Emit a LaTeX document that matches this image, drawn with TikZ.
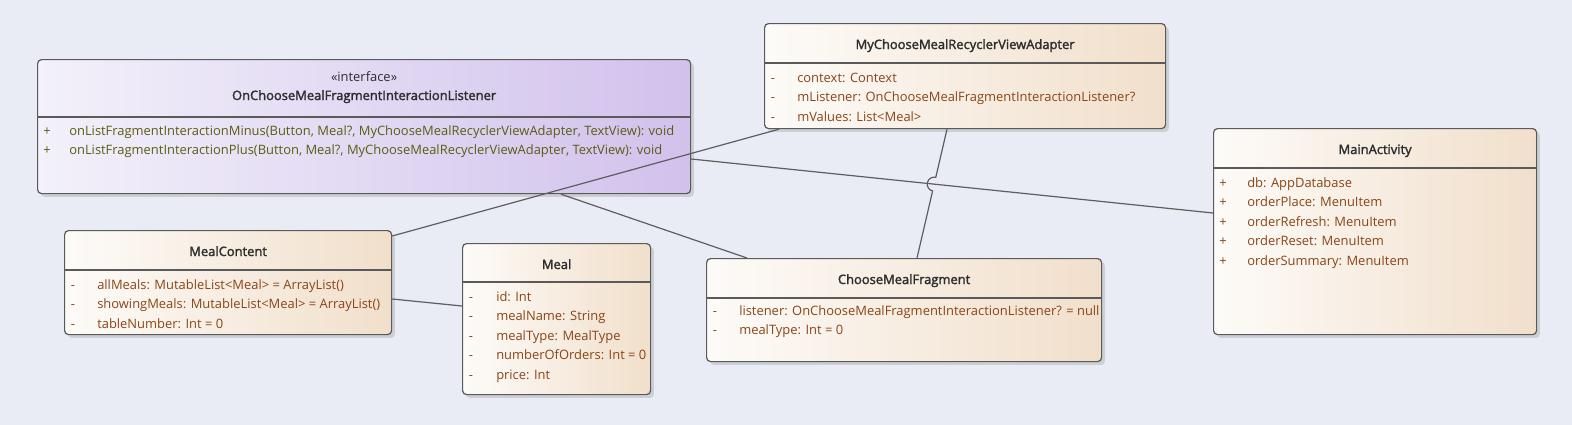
\documentclass[tikz,border=0pt]{standalone}
\usepackage{fontspec}
\setmainfont{Open Sans}[AutoFakeBold=2]
\usepackage{tikz}
\usetikzlibrary{positioning, calc, shadows, intersections}

\definecolor{bgcol}{HTML}{E9ECF4}
\definecolor{clsl}{HTML}{FDFBF8}
\definecolor{clsr}{HTML}{F1DFCB}
\definecolor{ifl}{HTML}{F3F1FA}
\definecolor{ifr}{HTML}{D1C1EC}
\definecolor{bordercol}{HTML}{5A5A5A}
\definecolor{linkcol}{HTML}{5E5E5E}
\definecolor{attrcol}{HTML}{8A4516}
\definecolor{opcol}{HTML}{5C5C14}
\definecolor{titlecol}{HTML}{2E2E2E}

\newcommand{\umlfont}{\fontsize{9.7}{11}\selectfont}

\tikzset{
    boxsize/.style 2 args={minimum width=#1*0.75pt, minimum height=#2*0.75pt},
}

\begin{document}
\begin{tikzpicture}[
    x=0.75pt, y=-0.75pt,
    cls/.style={rectangle, rounded corners=3pt, draw=bordercol, line width=0.9pt,
                anchor=north west, inner sep=0pt, left color=clsl, right color=clsr,
                drop shadow={shadow xshift=2.5pt, shadow yshift=-2.5pt,
                             fill=black!45, opacity=0.3}},
    iface/.style={cls, left color=ifl, right color=ifr},
    ttl/.style={font=\umlfont\bfseries, text=titlecol, anchor=base, inner sep=0pt},
    stereo/.style={ttl, font=\umlfont},
    vis/.style={font=\umlfont, text=attrcol, anchor=base, inner sep=0pt},
    attr/.style={font=\umlfont, text=attrcol, anchor=base west, inner sep=0pt},
    op/.style={attr, text=opcol},
    sep/.style={draw=bordercol, line width=0.9pt},
    link/.style={draw=linkcol, line width=0.9pt},
]
    \path[use as bounding box, fill=bgcol] (0,0) rectangle (1572,425);

    % classes
    \node[iface, boxsize={653}{134}] (listener) at (37,59) {};
    \node[stereo] (listener-st) at ($(listener.north)+(0,22)$) {«interface»};
    \node[ttl] (listener-t) at ($(listener.north)+(0,41)$) {OnChooseMealFragmentInteractionListener};
    \draw[sep] ($(listener.north west)+(0,58)$) -- ($(listener.north east)+(0,58)$);
    \foreach \txt [count=\i] in {
        {onListFragmentInteractionMinus(Button, Meal?, MyChooseMealRecyclerViewAdapter, TextView): void},
        {onListFragmentInteractionPlus(Button, Meal?, MyChooseMealRecyclerViewAdapter, TextView): void}} {
        \node[vis, text=opcol] (listener-v\i) at ($(listener.north west)+(10,{58+18+19.5*(\i-1)})$) {+};
        \node[op] (listener-o\i) at ($(listener.north west)+(32,{58+18+19.5*(\i-1)})$) {\txt};
    }

    \node[cls, boxsize={401}{105}] (adapter) at (764,23) {};
    \node[ttl] (adapter-t) at ($(adapter.north)+(0,26)$) {MyChooseMealRecyclerViewAdapter};
    \draw[sep] ($(adapter.north west)+(0,40)$) -- ($(adapter.north east)+(0,40)$);
    \foreach \txt [count=\i] in {context: Context,
        mListener: OnChooseMealFragmentInteractionListener?, mValues: List<Meal>} {
        \node[vis] (adapter-v\i) at ($(adapter.north west)+(9,{40+19+19.5*(\i-1)})$) {-};
        \node[attr] (adapter-a\i) at ($(adapter.north west)+(33,{40+19+19.5*(\i-1)})$) {\txt};
    }

    \node[cls, boxsize={323}{206}] (mainact) at (1213,128) {};
    \node[ttl] (mainact-t) at ($(mainact.north)+(0,26)$) {MainActivity};
    \draw[sep] ($(mainact.north west)+(0,40)$) -- ($(mainact.north east)+(0,40)$);
    \foreach \txt [count=\i] in {db: AppDatabase, orderPlace: MenuItem,
        orderRefresh: MenuItem, orderReset: MenuItem, orderSummary: MenuItem} {
        \node[vis] (mainact-v\i) at ($(mainact.north west)+(10,{40+19+19.5*(\i-1)})$) {+};
        \node[attr] (mainact-a\i) at ($(mainact.north west)+(34,{40+19+19.5*(\i-1)})$) {\txt};
    }

    \node[cls, boxsize={327}{104}] (content) at (64,230) {};
    \node[ttl] (content-t) at ($(content.north)+(0,26)$) {MealContent};
    \draw[sep] ($(content.north west)+(0,40)$) -- ($(content.north east)+(0,40)$);
    \foreach \txt [count=\i] in {allMeals: MutableList<Meal> = ArrayList(),
        showingMeals: MutableList<Meal> = ArrayList(), tableNumber: Int = 0} {
        \node[vis] (content-v\i) at ($(content.north west)+(9,{40+19+19.5*(\i-1)})$) {-};
        \node[attr] (content-a\i) at ($(content.north west)+(33,{40+19+19.5*(\i-1)})$) {\txt};
    }

    \node[cls, boxsize={188}{151}] (meal) at (462,243) {};
    \node[ttl] (meal-t) at ($(meal.north)+(0,26)$) {Meal};
    \draw[sep] ($(meal.north west)+(0,39)$) -- ($(meal.north east)+(0,39)$);
    \foreach \txt [count=\i] in {id: Int, mealName: String, mealType: MealType,
        numberOfOrders: Int = 0, price: Int} {
        \node[vis] (meal-v\i) at ($(meal.north west)+(9,{39+19+19.5*(\i-1)})$) {-};
        \node[attr] (meal-a\i) at ($(meal.north west)+(34,{39+19+19.5*(\i-1)})$) {\txt};
    }

    \node[cls, boxsize={395}{103}] (fragment) at (706,258) {};
    \node[ttl] (fragment-t) at ($(fragment.north)+(0,26)$) {ChooseMealFragment};
    \draw[sep] ($(fragment.north west)+(0,40)$) -- ($(fragment.north east)+(0,40)$);
    \foreach \txt [count=\i] in {listener: OnChooseMealFragmentInteractionListener? = null,
        mealType: Int = 0} {
        \node[vis] (fragment-v\i) at ($(fragment.north west)+(9,{40+17+19.5*(\i-1)})$) {-};
        \node[attr] (fragment-a\i) at ($(fragment.north west)+(33,{40+17+19.5*(\i-1)})$) {\txt};
    }

    % connector ends
    \coordinate (c1s) at ($(listener.north east)+(0,100)$);
    \coordinate (c1e) at ($(mainact.north west)+(0,85)$);
    \coordinate (c2s) at ($(adapter.south west)+(15,0)$);
    \coordinate (c2e) at ($(content.north east)+(0,6)$);
    \coordinate (c3s) at ($(listener.south west)+(524,0)$);
    \coordinate (c3e) at ($(fragment.north west)+(41,0)$);
    \coordinate (c4s) at ($(adapter.south west)+(183,0)$);
    \coordinate (c4e) at ($(fragment.north west)+(211,0)$);
    \coordinate (c5s) at ($(content.north east)+(0,69)$);
    \coordinate (c5e) at ($(meal.north west)+(0,63)$);

    % connectors
    \draw[link, name path=c1path] (c1s) -- (c1e);
    \draw[link] (c2s) -- (c2e);
    \draw[link] (c3s) -- (c3e);
    \draw[link] (c5s) -- (c5e);
    \path[name path=c4path] (c4s) -- (c4e);
    \path[name intersections={of=c1path and c4path, by=hopx}];
    \draw[link] let \p1=($(c4s)-(hopx)$), \n1={atan2(\y1,\x1)} in
        (c4s) -- ($(hopx)!5.25pt!(c4s)$)
        arc[start angle=-\n1, end angle={-\n1-180}, radius=7] -- (c4e);
\end{tikzpicture}
\end{document}
